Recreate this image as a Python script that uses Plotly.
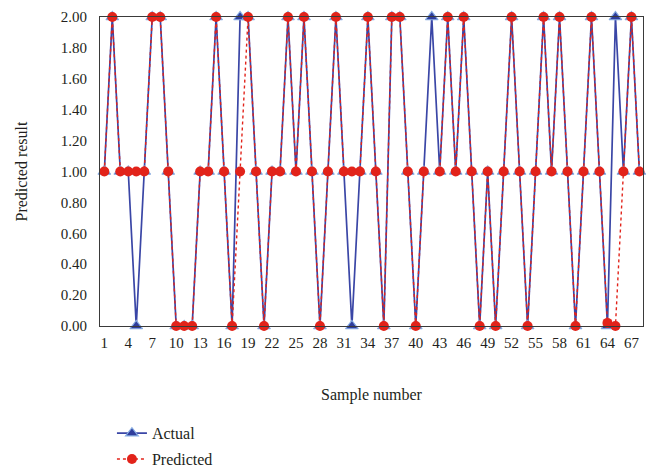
import plotly.graph_objects as go

samples = list(range(1, 69))
actual = [1, 2, 1, 1, 0, 1, 2, 2, 1, 0,
          0, 0, 1, 1, 2, 1, 0, 2, 2, 1,
          0, 1, 1, 2, 1, 2, 1, 0, 1, 2,
          1, 0, 1, 2, 1, 0, 2, 2, 1, 0,
          1, 2, 1, 2, 1, 2, 1, 0, 1, 0,
          1, 2, 1, 0, 1, 2, 1, 2, 1, 0,
          1, 2, 1, 0, 2, 1, 2, 1]
predicted = [1, 2, 1, 1, 1, 1, 2, 2, 1, 0,
             0, 0, 1, 1, 2, 1, 0, 1, 2, 1,
             0, 1, 1, 2, 1, 2, 1, 0, 1, 2,
             1, 1, 1, 2, 1, 0, 2, 2, 1, 0,
             1, None, 1, 2, 1, 2, 1, 0, 1, 0,
             1, 2, 1, 0, 1, 2, 1, 2, 1, 0,
             1, 2, 1, 0.02, 0, 1, 2, 1]
x_tick_vals = list(range(1, 68, 3))
y_tick_vals = [0, 0.2, 0.4, 0.6, 0.8, 1.0, 1.2, 1.4, 1.6, 1.8, 2.0]

FONT = "Liberation Serif"
TXT = "#231f20"

fig = go.Figure()
fig.add_trace(go.Scatter(
    x=samples, y=actual, name="Actual", mode="lines+markers",
    legendgroup="a",
    line=dict(color="#3a46a6", width=1.7),
    marker=dict(symbol="triangle-up", size=11, color="#2f3d9c",
                line=dict(color="#86ace2", width=1.2)),
    cliponaxis=False,
))
fig.add_trace(go.Scatter(
    x=samples, y=predicted, name="Predicted", mode="lines+markers",
    legendgroup="b",
    line=dict(color="#e2231a", width=1.4, dash="dot"),
    marker=dict(symbol="circle", size=10, color="#e2231a"),
    connectgaps=False,
    cliponaxis=False,
))

fig.update_layout(
    width=660, height=473,
    margin=dict(l=92, r=25, t=9, b=155, autoexpand=False),
    paper_bgcolor="white", plot_bgcolor="white",
    font=dict(family=FONT, size=15, color=TXT),
    showlegend=True,
    legend=dict(
        x=0.022, y=-0.292, xanchor="left", yanchor="top",
        orientation="v", font=dict(family=FONT, size=16, color=TXT),
        bgcolor="rgba(0,0,0,0)", itemwidth=30, tracegroupgap=2,
    ),
)
fig.update_xaxes(
    range=[0.46, 68.45], tickmode="array", tickvals=x_tick_vals,
    ticktext=[str(v) for v in x_tick_vals],
    showgrid=False, zeroline=False, showline=True, mirror=True,
    linecolor="#3a3a3a", linewidth=1, ticks="", ticklen=0,
    ticklabelstandoff=3, automargin=False, ticklabeloverflow="allow",
    tickfont=dict(family=FONT, size=15, color=TXT),
    title=dict(text="Sample number", font=dict(family=FONT, size=16, color=TXT), standoff=38),
)
fig.update_yaxes(
    range=[0, 2], tickmode="array", tickvals=y_tick_vals, tickformat=".2f",
    showgrid=False, zeroline=False, showline=True, mirror=True,
    linecolor="#3a3a3a", linewidth=1, ticks="",
    ticklabelstandoff=9, automargin=False, ticklabeloverflow="allow",
    tickfont=dict(family=FONT, size=15, color=TXT),
    title=dict(text="Predicted result", font=dict(family=FONT, size=16, color=TXT), standoff=29),
)

fig.write_html("out.html")
